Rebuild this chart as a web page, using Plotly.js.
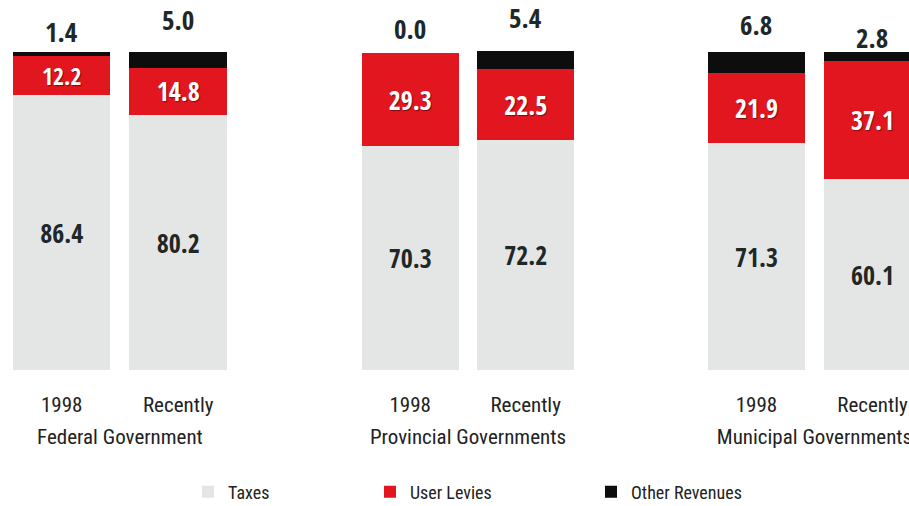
<!DOCTYPE html>
<html><head><meta charset="utf-8">
<script src="https://cdn.plot.ly/plotly-3.0.1.min.js"></script>
<style>html,body{margin:0;padding:0;overflow:hidden;background:#fff;width:909px;height:506px}</style>
</head><body><div id="chart" style="width:935px;height:511px"></div>
<script>
// ---- data ----
const groups = ["Federal Government", "Provincial Governments", "Municipal Governments"];
const periods = ["1998", "Recently"];
const taxes = [86.4, 80.2, 70.3, 72.2, 71.3, 60.1];
const userLevies = [12.2, 14.8, 29.3, 22.5, 21.9, 37.1];
const otherRevenues = [1.4, 5.0, 0.0, 5.4, 6.8, 2.8];
const seriesNames = ["Taxes", "User Levies", "Other Revenues"];

// ---- style ----
const colors = ["#e4e6e6", "#e2161f", "#0d0d0d"];
const BOLD = "Open Sans Condensed, Roboto Condensed, DejaVu Sans Condensed, sans-serif";
const REG = "Roboto Condensed, DejaVu Sans Condensed, sans-serif";
const DARK = "#1f2727";
const topLabelShift = [20, 32, 25, 34, 27, 14];
const domains = [[0.0037, 0.2529], [0.377, 0.624], [0.747, 0.9952]];
const legendX = [188/935, 370/935, 591/935];

const series = [taxes, userLevies, otherRevenues];
const traces = [];
groups.forEach((g, gi) => {
  const xa = gi === 0 ? 'x' : 'x' + (gi + 1);
  series.forEach((vals, si) => {
    const t = {
      type: 'bar', name: seriesNames[si], x: periods,
      y: [vals[2*gi], vals[2*gi+1]], xaxis: xa, yaxis: 'y',
      marker: {color: colors[si], line: {width: 0}},
      legend: si === 0 ? 'legend' : 'legend' + (si + 1),
      showlegend: gi === 0,
      hoverinfo: 'name+y'
    };
    if (si < 2) {
      t.texttemplate = '%{y:.1f}';
      t.textposition = 'inside';
      t.insidetextanchor = 'middle';
      t.textangle = 0;
      t.textfont = {family: BOLD, size: 26, weight: 700,
                    color: si === 0 ? DARK : '#ffffff',
                    shadow: si === 1 ? '1px 1px 1px rgba(0,0,0,0.45)' : 'none'};
    } else {
      t.textposition = 'none';
    }
    traces.push(t);
  });
});

const annotations = [];
otherRevenues.forEach((v, i) => {
  const gi = Math.floor(i / 2);
  annotations.push({
    x: periods.indexOf(periods[i % 2]), xref: gi === 0 ? 'x' : 'x' + (gi + 1),
    y: taxes[i] + userLevies[i] + v, yref: 'y',
    yanchor: 'middle', yshift: topLabelShift[i],
    text: v.toFixed(1), showarrow: false,
    font: {family: BOLD, size: 27, weight: 700, color: DARK}
  });
});

const xaxisBase = (gi) => ({
  domain: domains[gi], anchor: 'y', type: 'category', range: [-0.5, 1.5],
  showline: false, showgrid: false, zeroline: false, ticks: '',
  tickfont: {family: REG, size: 21, weight: 400, color: '#222'},
  ticklabelstandoff: 20,
  title: {text: groups[gi], font: {family: REG, size: 21, weight: 400, color: '#222'}, standoff: 12}
});
const legendBase = (x) => ({
  x: x, xanchor: 'left', y: 0, yanchor: 'middle',
  orientation: 'h', bgcolor: 'rgba(0,0,0,0)',
  font: {family: REG, size: 18, weight: 400, color: '#222'}
});
const layout = {
  width: 935, height: 511, margin: {l: 0, r: 0, t: 0, b: 0},
  paper_bgcolor: '#ffffff', plot_bgcolor: '#ffffff',
  barmode: 'stack', bargap: 0.163,
  xaxis: xaxisBase(0), xaxis2: xaxisBase(1), xaxis3: xaxisBase(2),
  yaxis: {domain: [0.2470, 0.9012], range: [0, 101], visible: false},
  legend: legendBase(legendX[0]), legend2: legendBase(legendX[1]), legend3: legendBase(legendX[2]),
  annotations: annotations
};

Plotly.newPlot('chart', traces, layout, {displayModeBar: false, staticPlot: true});
</script></body></html>
